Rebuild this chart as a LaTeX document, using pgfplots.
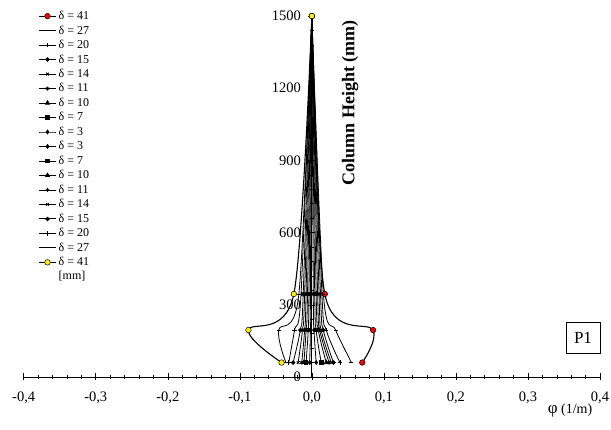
\documentclass[border=0pt]{standalone}
\usepackage{fontspec}
\setmainfont{Liberation Serif}
\usepackage{pgfplots}
\pgfplotsset{compat=1.18}
\begin{document}
\begin{tikzpicture}[x=1pt,y=1pt]
\useasboundingbox (0,0) rectangle (611,430);
\begin{axis}[
  at={(23.7pt,53pt)}, anchor=south west,
  scale only axis, width=576.3pt, height=361pt,
  xmin=-0.4, xmax=0.4, ymin=0, ymax=1500,
  axis lines=middle, axis line style={-, line width=0.7pt},
  xtick={-0.4,-0.3,-0.2,-0.1,0,0.1,0.2,0.3,0.4},
  ytick={0,300,600,900,1200,1500},
  minor x tick num=4, minor y tick num=4,
  tick align=center, major tick length=7pt, minor tick length=4pt,
  tick style={black, line width=0.5pt},
  hide obscured x ticks=false, hide obscured y ticks=false,
  /pgf/number format/assume math mode=true,
  x tick label style={font=\fontsize{14.5}{16}\selectfont, yshift=-8pt, /pgf/number format/.cd, use comma, fixed, fixed zerofill, precision=1, /tikz/.cd},
  y tick label style={font=\fontsize{14.5}{16}\selectfont, xshift=-4pt, /pgf/number format/.cd, 1000 sep={}, /tikz/.cd},
  clip=false,
  smooth, tension=0.5,
  legend cell align=left,
  legend style={at={(0.02,1.025)}, anchor=north west, draw=none, fill=none, font=\fontsize{12}{13}\selectfont, row sep=0.6pt},
]
% positive side
\addplot[black, line width=1.1pt, mark=*, mark size=2.8pt, mark options={fill=red, draw=black, line width=0.5pt}] coordinates {(0.070,60) (0.085,195) (0.018,345) (0,1500)};
\addlegendentry{δ = 41}
\addplot[black, line width=0.8pt, mark=-, mark size=2pt] coordinates {(0.055,60) (0.033,195) (0.016,345) (0,1500)};
\addlegendentry{δ = 27}
\addplot[black, line width=0.8pt, mark=+, mark size=2.2pt] coordinates {(0.039,60) (0.020,195) (0.014,345) (0,1500)};
\addlegendentry{δ = 20}
\addplot[black, line width=0.8pt, mark=*, mark size=1.8pt] coordinates {(0.030,60) (0.016,195) (0.012,345) (0,1500)};
\addlegendentry{δ = 15}
\addplot[black, line width=0.8pt, mark=x, mark size=2pt] coordinates {(0.027,60) (0.013,195) (0.010,345) (0,1500)};
\addlegendentry{δ = 14}
\addplot[black, line width=0.8pt, mark=asterisk, mark size=2pt] coordinates {(0.024,60) (0.011,195) (0.008,345) (0,1500)};
\addlegendentry{δ = 11}
\addplot[black, line width=0.8pt, mark=triangle*, mark size=2.3pt] coordinates {(0.020,60) (0.009,195) (0.006,345) (0,1500)};
\addlegendentry{δ = 10}
\addplot[black, line width=0.8pt, mark=square*, mark size=1.8pt] coordinates {(0.013,60) (0.006,195) (0.004,345) (0,1500)};
\addlegendentry{δ = 7}
\addplot[black, line width=0.8pt, mark=diamond*, mark size=1.9pt] coordinates {(0.006,60) (0.003,195) (0.002,345) (0,1500)};
\addlegendentry{δ = 3}
% negative side
\addplot[black, line width=0.8pt, mark=diamond*, mark size=1.9pt] coordinates {(-0.003,60) (-0.002,195) (-0.002,345) (0,1500)};
\addlegendentry{δ = 3}
\addplot[black, line width=0.8pt, mark=square*, mark size=1.8pt] coordinates {(-0.008,60) (-0.005,195) (-0.004,345) (0,1500)};
\addlegendentry{δ = 7}
\addplot[black, line width=0.8pt, mark=triangle*, mark size=2.3pt] coordinates {(-0.011,60) (-0.008,195) (-0.006,345) (0,1500)};
\addlegendentry{δ = 10}
\addplot[black, line width=0.8pt, mark=asterisk, mark size=2pt] coordinates {(-0.014,60) (-0.010,195) (-0.008,345) (0,1500)};
\addlegendentry{δ = 11}
\addplot[black, line width=0.8pt, mark=x, mark size=2pt] coordinates {(-0.019,60) (-0.013,195) (-0.010,345) (0,1500)};
\addlegendentry{δ = 14}
\addplot[black, line width=0.8pt, mark=*, mark size=1.8pt] coordinates {(-0.026,60) (-0.016,195) (-0.012,345) (0,1500)};
\addlegendentry{δ = 15}
\addplot[black, line width=0.8pt, mark=+, mark size=2.2pt] coordinates {(-0.032,60) (-0.024,195) (-0.015,345) (0,1500)};
\addlegendentry{δ = 20}
\addplot[black, line width=0.8pt, mark=-, mark size=2pt] coordinates {(-0.036,60) (-0.046,195) (-0.018,345) (0,1500)};
\addlegendentry{δ = 27}
\addplot[black, line width=1.1pt, mark=*, mark size=2.8pt, mark options={fill=yellow, draw=black, line width=0.5pt}] coordinates {(-0.042,60) (-0.088,195) (-0.025,345) (0,1500)};
\addlegendentry{δ = 41}
\end{axis}
\node[font=\fontsize{12}{13}\selectfont] at (72,153.5) {[mm]};
\node[font=\fontsize{18}{20}\selectfont\bfseries, rotate=90] at (350,327) {Column Height (mm)};
\node[font=\fontsize{14}{16}\selectfont] at (570,20) {{\fontsize{17}{17}\selectfont φ} (1/m)};
\node[draw, line width=0.5pt, inner sep=3pt, minimum width=34pt, minimum height=31pt, font=\fontsize{17}{19}\selectfont] at (583,92) {P1};
\end{tikzpicture}
\end{document}
